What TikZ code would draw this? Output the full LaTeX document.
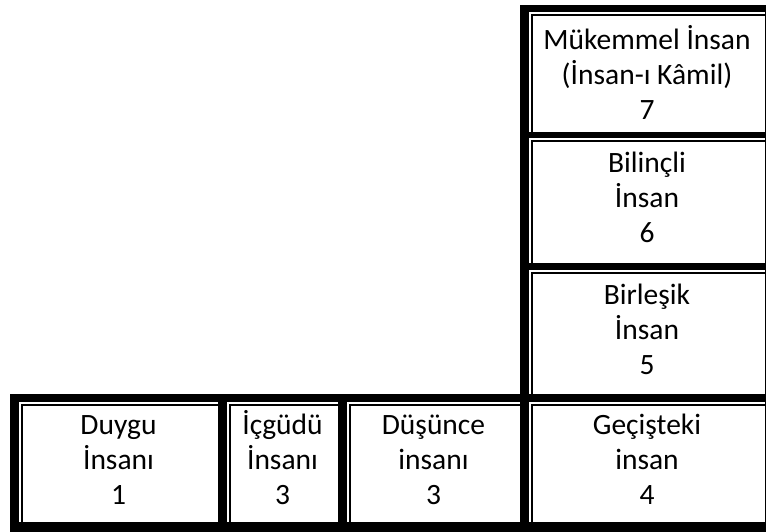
\documentclass[tikz,border=0pt]{standalone}
\usepackage{fontspec}
\setmainfont{Carlito}
\begin{document}
\begin{tikzpicture}[x=1pt,y=-1pt,
  cell/.style={fill=white, inner sep=0pt, align=center,
    font=\fontsize{29.5}{35}\selectfont,
    path picture={\draw[line width=1.5pt]
      ([xshift=2.75pt]path picture bounding box.south west) |-
      ([yshift=-2.75pt]path picture bounding box.north east);}}]
\clip (0,0) rectangle (766,531);
\useasboundingbox (0,0) rectangle (766,531);
% thick black frame (L-shaped table)
\fill[black] (10,394) -- (520,394) -- (520,5) -- (790,5) -- (790,560) -- (10,560) -- cycle;
% bottom row
\node[cell, minimum width=199pt, minimum height=120pt] (duygu)   at (118.5,462) {\strut Duygu\\\strut İnsanı\\\strut 1};
\node[cell, minimum width=111pt, minimum height=120pt] (icgudu)  at (282.5,462) {\strut İçgüdü\\\strut İnsanı\\\strut 3};
\node[cell, minimum width=173pt, minimum height=120pt] (dusunce) at (433.5,462) {\strut Düşünce\\\strut insanı\\\strut 3};
\node[cell, minimum width=236pt, minimum height=120pt] (gecis)   at (647,462)   {\strut Geçişteki\\\strut insan\\\strut 4};
% right column
\node[cell, minimum width=236pt, minimum height=124pt] (birlesik) at (647,332) {\strut Birleşik\\\strut İnsan\\\strut 5};
\node[cell, minimum width=236pt, minimum height=125pt] (bilincli) at (647,200.5) {\strut Bilinçli\\\strut İnsan\\\strut 6};
\node[cell, minimum width=236pt, minimum height=120pt, text depth=0pt] (mukemmel) at (647,72) {\strut Mükemmel İnsan\\\strut (İnsan-ı Kâmil)\\\strut 7};
\end{tikzpicture}
\end{document}
